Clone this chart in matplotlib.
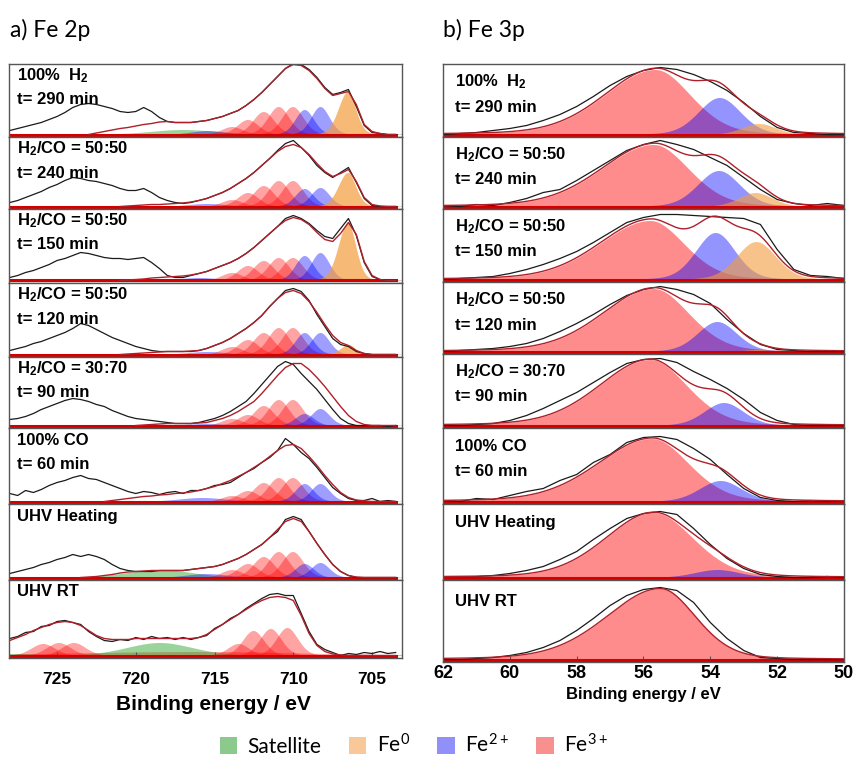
import numpy as np
import matplotlib.pyplot as plt
from matplotlib.patches import Patch
from matplotlib.ticker import AutoMinorLocator

plt.rcParams['font.family'] = ['Liberation Sans', 'DejaVu Sans']
plt.rcParams['mathtext.default'] = 'regular'

W, H = 854, 762

# energy grids of the measured spectra
be_2p = np.arange(728.0, 703.4, -0.5)   # 728 ... 703.5 eV
be_3p = np.arange(62.0, 49.9, -0.5)     # 62 ... 50 eV

sample_labels = [
    ('100%  H$_2$', 't= 290 min'),
    ('H$_2$/CO = 50:50', 't= 240 min'),
    ('H$_2$/CO = 50:50', 't= 150 min'),
    ('H$_2$/CO = 50:50', 't= 120 min'),
    ('H$_2$/CO = 30:70', 't= 90 min'),
    ('100% CO', 't= 60 min'),
    ('UHV Heating', ''),
    ('UHV RT', ''),
]

# ---------------- Fe 2p measured intensity (arb., baseline = 0)
fe2p_raw_290 = [4, 6, 8, 10, 12, 15, 18, 22, 27, 30, 31, 30, 28, 26, 23, 22, 23, 27, 23, 17,
                13, 12, 12, 12, 13, 14, 16, 18, 21, 24, 29, 35, 42, 50, 58, 66, 71, 70, 65, 57,
                47, 40, 42, 45, 28, 9, 2, 1, 0, 0]
fe2p_raw_240 = [4, 6, 9, 12, 15, 19, 22, 26, 29, 28, 26, 25, 23, 21, 18, 16, 16, 18, 14, 9,
                6, 4, 3, 4, 6, 8, 11, 14, 18, 23, 28, 34, 41, 48, 56, 63, 66, 59, 51, 41,
                34, 29, 34, 39, 24, 8, 1, 0, 0, 0]
fe2p_raw_150 = [3, 5, 8, 10, 13, 16, 20, 22, 25, 28, 27, 25, 23, 22, 22, 21, 22, 23, 18, 12,
                5, 3, 3, 5, 7, 9, 12, 15, 18, 22, 27, 33, 40, 47, 54, 62, 65, 62, 57, 50,
                44, 42, 52, 62, 45, 18, 4, 1, 0, 0]
fe2p_raw_120 = [4, 6, 8, 11, 13, 16, 19, 22, 26, 31, 29, 25, 21, 17, 14, 11, 8, 6, 4, 3,
                3, 3, 3, 3, 4, 6, 9, 12, 16, 21, 26, 32, 39, 48, 56, 64, 66, 63, 54, 40,
                28, 16, 10, 8, 3, 1, 0, 0, 0, 0]
fe2p_raw_90 = [6, 7, 9, 12, 16, 19, 22, 25, 27, 26, 24, 21, 19, 15, 12, 9, 7, 6, 5, 4,
               3, 2, 2, 2, 3, 5, 7, 10, 14, 19, 24, 32, 41, 50, 59, 64, 61, 52, 44, 36,
               26, 16, 7, 2, 0, 0, 0, 0, -1, 0]
fe2p_raw_60 = [8, 6, 11, 9, 12, 16, 19, 21, 24, 26, 23, 22, 19, 16, 13, 10, 8, 10, 9, 7,
               9, 10, 8, 11, 11, 13, 16, 17, 19, 24, 29, 33, 39, 44, 51, 63, 57, 49, 43, 34,
               24, 14, 8, 3, 1, 1, 3, 0, 1, 0]
fe2p_raw_heat = [4, 6, 8, 10, 13, 15, 18, 20, 23, 21, 23, 21, 18, 13, 9, 7, 6, 6, 6, 7,
                 7, 7, 7, 8, 9, 10, 11, 13, 16, 19, 23, 28, 33, 40, 46, 58, 61, 58, 46, 34,
                 23, 13, 6, 2, 0, 0, 0, 0, 0, 0]
fe2p_raw_rt = [17, 19, 23, 24, 29, 30, 34, 35, 33, 31, 24, 19, 15, 14, 16, 15, 18, 16, 19, 17,
               18, 16, 18, 16, 18, 20, 27, 31, 37, 41, 47, 52, 57, 61, 62, 60, 60, 42, 24, 11,
               6, 3, 0, 2, 1, 3, 2, 4, 2, 3]

# Fe 2p fit envelopes (last points of the be_2p grid)
fe2p_fit_290 = [0, 1.5, 3, 4.5, 6, 7, 8.5, 10, 11, 12.5, 13, 12, 12, 12, 13, 14, 16, 18, 21, 24,
                29, 35, 42, 50, 58, 66, 70, 69, 64, 56, 46, 39, 41, 43, 30, 10, 3, 1, 0, 0]
fe2p_fit_240 = [0, 0.5, 1, 1.5, 2, 2, 2.5, 3, 3.5, 4.5, 6, 8, 11, 14, 18, 23, 28, 34, 41, 48,
                55, 60, 62, 59, 52, 43, 35, 30, 33, 37, 25, 9, 2, 0.5, 0, 0]
fe2p_fit_150 = [0, 0.5, 1, 1.5, 2.5, 3, 3.5, 4, 4.5, 5.5, 7, 9, 12, 15, 18, 22, 27, 33, 40, 47,
                54, 60, 63, 61, 56, 48, 41, 39, 47, 58, 46, 19, 5, 1, 0, 0]
fe2p_fit_120 = [0, 0.5, 1, 1.5, 2, 2.5, 3, 3, 3, 3.5, 4, 6, 9, 12, 16, 21, 26, 32, 39, 48,
                56, 62, 64, 61, 53, 42, 30, 19, 12, 9, 4, 1, 0, 0, 0, 0]
fe2p_fit_90 = [0, 0.5, 1, 1.5, 2, 2, 2, 2, 2.5, 3, 5, 7, 10, 14, 19, 24, 32, 41, 50, 58,
               62, 62, 56, 48, 39, 29, 19, 10, 4, 1, 0, 0, 0, 0]
fe2p_fit_60 = [0, 1, 2, 3, 4, 5, 5.5, 6.5, 7, 8, 8.5, 9.5, 11, 13, 15, 18, 21, 25, 29, 34,
               39, 45, 51, 56, 57, 53, 45, 36, 26, 17, 9, 4, 1.5, 0.5, 0, 0, 0, 0]
fe2p_fit_heat = [0, 0.5, 1, 2, 3, 4.5, 5.5, 6, 6.5, 7, 7, 7, 7, 7, 8, 9, 10, 11, 13, 16,
                 19, 23, 28, 33, 40, 48, 56, 59, 56, 46, 34, 23, 13, 6, 2, 0.5, 0, 0, 0, 0, 0]
fe2p_fit_rt = [15, 18, 21, 25, 28, 31, 33, 34, 33, 30, 25, 20, 17, 16, 16, 16, 17, 17, 17, 17,
               17, 17, 17, 17, 18, 21, 26, 31, 36, 41, 46, 51, 55, 58, 59, 58, 55, 40, 22, 10,
               4, 1.5, 0.5, 0, 0, 0, 0, 0, 0, 0]

# Fe 2p fitted components: (species, centre eV, height, hwhm high-BE side, hwhm low-BE side)
fe2p_peaks_290 = [('sat', 717.0, 5, 2.5, 2.5), ('fe2', 715.4, 4, 1.3, 1.3),
                  ('fe3', 713.9, 8, .8, .8), ('fe3', 712.9, 15, .8, .8), ('fe3', 711.9, 23, .8, .8),
                  ('fe3', 710.95, 28, .8, .8), ('fe3', 710.05, 28, .8, .8),
                  ('fe2', 709.3, 25, .7, .7), ('fe2', 708.3, 28, .7, .7), ('fe0', 706.55, 43, .7, .6)]
fe2p_peaks_240 = [('fe2', 715.5, 3, 1.5, 1.5),
                  ('fe3', 713.9, 7, .8, .8), ('fe3', 712.9, 14, .8, .8), ('fe3', 711.9, 21, .8, .8),
                  ('fe3', 710.95, 26, .8, .8), ('fe3', 710.05, 26, .8, .8),
                  ('fe2', 709.3, 18, .7, .7), ('fe2', 708.3, 19, .7, .7), ('fe0', 706.55, 34, .7, .6)]
fe2p_peaks_150 = [('fe2', 716.0, 3, 1.5, 1.5),
                  ('fe3', 713.9, 8, .8, .8), ('fe3', 712.9, 15, .8, .8), ('fe3', 711.9, 20, .8, .8),
                  ('fe3', 710.95, 23, .8, .8), ('fe3', 710.05, 23, .8, .8),
                  ('fe2', 709.3, 25, .7, .7), ('fe2', 708.3, 28, .7, .7), ('fe0', 706.55, 58, .7, .6)]
fe2p_peaks_120 = [('fe2', 715.5, 3, 1.5, 1.5),
                  ('fe3', 713.9, 8, .8, .8), ('fe3', 712.9, 15, .8, .8), ('fe3', 711.9, 22, .8, .8),
                  ('fe3', 710.95, 27, .8, .8), ('fe3', 710.05, 27, .8, .8),
                  ('fe2', 709.3, 22, .7, .7), ('fe2', 708.3, 22, .7, .7), ('fe0', 706.5, 10, .6, .5)]
fe2p_peaks_90 = [('fe2', 715.5, 2, 1.5, 1.5),
                 ('fe3', 713.9, 7, .8, .8), ('fe3', 712.9, 11, .8, .8), ('fe3', 711.9, 20, .8, .8),
                 ('fe3', 710.95, 26, .8, .8), ('fe3', 710.05, 26, .8, .8),
                 ('fe2', 709.3, 12, .7, .7), ('fe2', 708.3, 17, .7, .7)]
fe2p_peaks_60 = [('fe2', 715.8, 4, 1.8, 1.8),
                 ('fe3', 713.9, 6, .8, .8), ('fe3', 712.9, 11, .8, .8), ('fe3', 711.9, 19, .8, .8),
                 ('fe3', 710.95, 24, .8, .8), ('fe3', 710.05, 24, .8, .8),
                 ('fe2', 709.3, 18, .7, .7), ('fe2', 708.3, 18, .7, .7)]
fe2p_peaks_heat = [('sat', 718.5, 8, 2.5, 2.5), ('fe2', 715.5, 4, 1.5, 1.5),
                   ('fe3', 713.9, 8, .8, .8), ('fe3', 712.9, 14, .8, .8), ('fe3', 711.9, 21, .8, .8),
                   ('fe3', 710.95, 26, .8, .8), ('fe3', 710.05, 26, .8, .8),
                   ('fe2', 709.3, 14, .7, .7), ('fe2', 708.3, 15, .7, .7)]
fe2p_peaks_rt = [('fe3', 716.0, 4, 10, 8), ('sat', 727.5, 2, 1.5, 1.5), ('sat', 718.5, 13, 2.5, 2.5),
                 ('fe3', 725.9, 12, .9, .9), ('fe3', 724.9, 13, .9, .9), ('fe3', 723.95, 13, .9, .9),
                 ('fe3', 713.5, 12, .8, .8), ('fe3', 712.55, 25, .8, .8),
                 ('fe3', 711.45, 27, .8, .8), ('fe3', 710.4, 28, .8, .8)]

# ---------------- Fe 3p measured intensity
fe3p_raw_290 = [0, 1, 2, 4, 6, 9, 14, 20, 28, 38, 49, 58, 64, 67, 65, 60, 53, 44, 32, 18, 7, 2, 1, 0, 0]
fe3p_raw_240 = [1, 0, 2, 1, 4, 8, 14, 17, 26, 36, 46, 56, 62, 66, 62, 57, 49, 41, 29, 17, 7, 3, 1, 3, 1]
fe3p_raw_150 = [0, 1, 2, 3, 6, 10, 15, 21, 28, 37, 47, 57, 62, 65, 65, 64, 63, 62, 61, 55, 30, 10, 4, 3, 1]
fe3p_raw_120 = [0, 1, 2, 3, 5, 8, 13, 20, 28, 37, 47, 56, 62, 65, 62, 57, 48, 32, 18, 7, 2, 1, 0, 0, 0]
fe3p_raw_90 = [0, 0, 1, 2, 5, 10, 17, 25, 33, 43, 53, 62, 66, 67, 63, 54, 46, 37, 26, 13, 5, 1, 0, 0, 0]
fe3p_raw_60 = [1, 0, 3, 2, 6, 10, 13, 21, 27, 39, 47, 59, 64, 65, 62, 53, 42, 27, 13, 4, 1, 0, 1, 0, 1]
fe3p_raw_heat = [1, 1, 1, 2, 4, 7, 11, 18, 26, 38, 49, 59, 64, 66, 63, 49, 33, 19, 9, 3, 1, 0, 0, 1, 0]
fe3p_raw_rt = [0, 0, 1, 2, 4, 7, 12, 19, 29, 41, 54, 64, 70, 72, 69, 57, 37, 21, 9, 2, 1, 0, 0, 0, 0]

# Fe 3p fitted components
fe3p_peaks_290 = [('fe3', 55.65, 65, 1.8, 1.25), ('fe2', 53.73, 37, .75, .75), ('fe0', 52.55, 11, .6, .6)]
fe3p_peaks_240 = [('fe3', 55.7, 62, 1.85, 1.25), ('fe2', 53.75, 36, .75, .75), ('fe0', 52.65, 14, .6, .6)]
fe3p_peaks_150 = [('fe3', 55.8, 59, 1.8, 1.2), ('fe2', 53.85, 47, .7, .7), ('fe0', 52.63, 38, .7, .7)]
fe3p_peaks_120 = [('fe3', 55.7, 63, 1.8, 1.25), ('fe2', 53.8, 30, .7, .7), ('fe0', 52.6, 2, .5, .5)]
fe3p_peaks_90 = [('fe3', 55.8, 66, 1.8, 1.3), ('fe2', 53.6, 23, .7, .7)]
fe3p_peaks_60 = [('fe3', 55.75, 63, 1.9, 1.3), ('fe2', 53.7, 21, .75, .75)]
fe3p_peaks_heat = [('fe3', 55.7, 65, 1.7, 1.4), ('fe2', 53.8, 8, .8, .8)]
fe3p_peaks_rt = [('fe3', 55.5, 71, 1.9, 1.25)]

raw_2p = [fe2p_raw_290, fe2p_raw_240, fe2p_raw_150, fe2p_raw_120, fe2p_raw_90, fe2p_raw_60, fe2p_raw_heat, fe2p_raw_rt]
fit_2p = [fe2p_fit_290, fe2p_fit_240, fe2p_fit_150, fe2p_fit_120, fe2p_fit_90, fe2p_fit_60, fe2p_fit_heat, fe2p_fit_rt]
peaks_2p = [fe2p_peaks_290, fe2p_peaks_240, fe2p_peaks_150, fe2p_peaks_120, fe2p_peaks_90, fe2p_peaks_60, fe2p_peaks_heat, fe2p_peaks_rt]
raw_3p = [fe3p_raw_290, fe3p_raw_240, fe3p_raw_150, fe3p_raw_120, fe3p_raw_90, fe3p_raw_60, fe3p_raw_heat, fe3p_raw_rt]
peaks_3p = [fe3p_peaks_290, fe3p_peaks_240, fe3p_peaks_150, fe3p_peaks_120, fe3p_peaks_90, fe3p_peaks_60, fe3p_peaks_heat, fe3p_peaks_rt]

style_2p = {'sat': ('#22a022', 0.45), 'fe0': ('#f39c3c', 0.7), 'fe2': ('blue', 0.38), 'fe3': ('red', 0.36)}
style_3p = {'fe0': ('#f39c3c', 0.6), 'fe2': ('blue', 0.42), 'fe3': ('red', 0.45)}


def peak(x, c, h, w_hi, w_lo, mix=0.2):
    # pseudo-Voigt line, different half widths on each side
    w = np.where(x > c, w_hi, w_lo)
    u = ((x - c) / w) ** 2
    return h * ((1 - mix) * np.exp(-np.log(2) * u) + mix / (1 + u))


def draw(ax, be, raw, fit, peaks, style, fine):
    total = np.zeros_like(fine)
    for kind, c, h, whi, wlo in peaks:
        y = peak(fine, c, h, whi, wlo)
        total += y
        col, a = style[kind]
        ax.fill_between(fine, 0, y, color=col, alpha=a, lw=0)
    ax.plot(be, np.zeros_like(be), color='#d40000', lw=2.2)
    ax.plot(be, raw, color='#1a1a1a', lw=0.9)
    if fit is None:
        ax.plot(fine, total, color='#b0202a', lw=1.0)
    else:
        ax.plot(be[len(be) - len(fit):], fit, color='#b0202a', lw=1.0)


fig = plt.figure(figsize=(W / 100, H / 100), dpi=100)

columns = [
    dict(x0=9, x1=402, bounds=[64, 137, 209, 283, 357, 428, 504, 580, 658], xlim=(728.05, 703.1),
         be=be_2p, raws=raw_2p, fits=fit_2p, peaks=peaks_2p, style=style_2p,
         ticks=[725, 720, 715, 710, 705], tfs=12.5, pad=10, lab_dx=8, lab_dy=(12, 36), lfs=12),
    dict(x0=443, x1=844, bounds=[64, 137, 209, 282, 354, 428, 504, 580, 662], xlim=(62, 50),
         be=be_3p, raws=raw_3p, fits=[None] * 8, peaks=peaks_3p, style=style_3p,
         ticks=[62, 60, 58, 56, 54, 52, 50], tfs=13, pad=2, lab_dx=12, lab_dy=(18, 43), lfs=12),
]

for col in columns:
    fine = np.linspace(col['xlim'][0], col['xlim'][1], 900)
    b = col['bounds']
    for i in range(8):
        top, bot = b[i], b[i + 1]
        ax = fig.add_axes([col['x0'] / W, 1 - bot / H, (col['x1'] - col['x0']) / W, (bot - top) / H])
        draw(ax, col['be'], col['raws'][i], col['fits'][i], col['peaks'][i], col['style'], fine)
        ax.set_xlim(col['xlim'])
        ax.set_ylim(-2.5, bot - top - 2.5)
        for s in ax.spines.values():
            s.set_color('#555555')
            s.set_linewidth(1.0)
        ax.set_yticks([])
        l1, l2 = sample_labels[i]
        dy1 = col['lab_dy'][0] if i != 7 else col['lab_dy'][0] + (0 if col['x0'] < 100 else 4)
        ax.annotate(l1, (0, 1), xycoords='axes fraction', xytext=(col['lab_dx'], -dy1),
                    textcoords='offset pixels', ha='left', va='center', fontsize=col['lfs'], fontweight='bold')
        if l2:
            ax.annotate(l2, (0, 1), xycoords='axes fraction', xytext=(col['lab_dx'], -col['lab_dy'][1]),
                        textcoords='offset pixels', ha='left', va='center', fontsize=col['lfs'], fontweight='bold')
        if i < 7:
            ax.set_xticks([])
        else:
            ax.set_xticks(col['ticks'])
            ax.xaxis.set_minor_locator(AutoMinorLocator(2))
            ax.tick_params(axis='x', which='major', direction='in', length=4, color='#555555',
                           labelsize=col['tfs'], pad=col['pad'])
            ax.tick_params(axis='x', which='minor', direction='in', length=2.5, color='#555555')
            for t in ax.get_xticklabels():
                t.set_fontweight('bold')

tfont = ['Lato', 'DejaVu Sans']
fig.text(10 / W, 1 - 30 / H, 'a) Fe 2p', family=tfont, fontsize=16.5, ha='left', va='center')
fig.text(443 / W, 1 - 30 / H, 'b) Fe 3p', family=tfont, fontsize=16.5, ha='left', va='center')
fig.text(213 / W, 1 - 705 / H, 'Binding energy / eV', fontsize=15, fontweight='bold', ha='center', va='center')
fig.text(643.5 / W, 1 - 694 / H, 'Binding energy / eV', fontsize=12, fontweight='bold', ha='center', va='center')

handles = [Patch(facecolor='#8cc98c', label='Satellite'), Patch(facecolor='#f9c898', label='Fe$^{0}$'),
           Patch(facecolor='#9090f8', label='Fe$^{2+}$'), Patch(facecolor='#f89090', label='Fe$^{3+}$')]
fig.legend(handles=handles, loc='center', bbox_to_anchor=(414 / W, 1 - 745 / H), ncol=4, frameon=False,
           prop={'family': tfont, 'size': 15}, handlelength=0.85, handleheight=0.85,
           handletextpad=0.5, columnspacing=1.3)

fig.savefig('out.png', dpi=100)
